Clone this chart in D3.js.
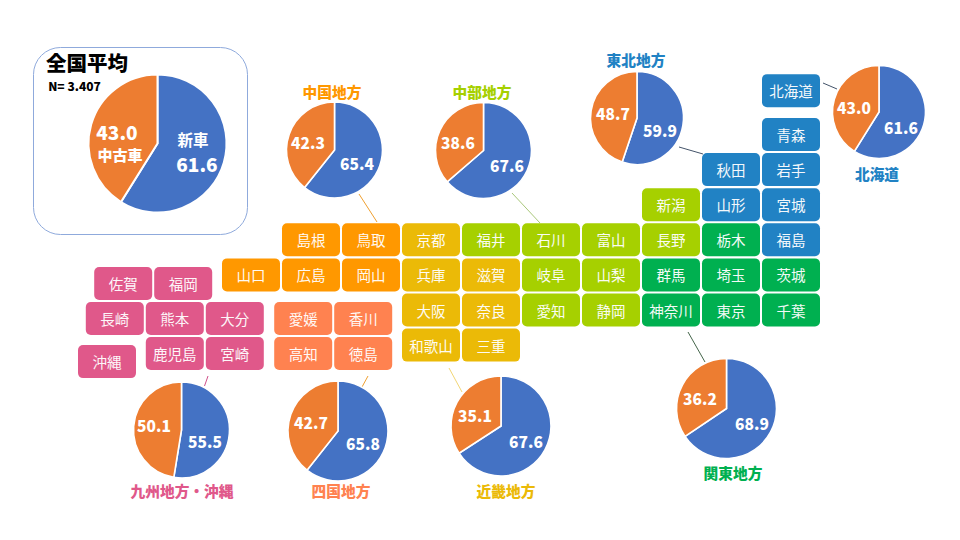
<!DOCTYPE html>
<html>
<head>
<meta charset="utf-8">
<script src="https://cdn.jsdelivr.net/npm/d3@7"></script>
<style>
  html, body { margin: 0; padding: 0; background: #fff; }
  svg { display: block; }
  text { font-family: "Noto Sans CJK JP", sans-serif; text-anchor: middle; dominant-baseline: central; }
</style>
</head>
<body>
<svg id="chart" width="960" height="540"></svg>
<script>
// values
var regionNames = ["全国平均", "北海道", "東北地方", "関東地方", "中部地方", "近畿地方", "中国地方", "四国地方", "九州地方・沖縄"];
var newCar = [61.6, 61.6, 59.9, 68.9, 67.6, 67.6, 65.4, 65.8, 55.5];
var usedCar = [43.0, 43.0, 48.7, 36.2, 38.6, 35.1, 42.3, 42.7, 50.1];

var hokkaidoTiles = ["北海道"];
var tohokuTiles = ["青森", "秋田", "岩手", "山形", "宮城", "福島"];
var kantoTiles = ["栃木", "群馬", "埼玉", "茨城", "神奈川", "東京", "千葉"];
var chubuTiles = ["新潟", "福井", "石川", "富山", "長野", "岐阜", "山梨", "愛知", "静岡"];
var kinkiTiles = ["京都", "兵庫", "滋賀", "大阪", "奈良", "和歌山", "三重"];
var chugokuTiles = ["島根", "鳥取", "山口", "広島", "岡山"];
var shikokuTiles = ["愛媛", "香川", "高知", "徳島"];
var kyushuTiles = ["佐賀", "福岡", "長崎", "熊本", "大分", "鹿児島", "宮崎", "沖縄"];

// page layout, same order as regionNames
var pieSpots = [
  { x: 157.5, y: 143.5, r: 69, newAt: [197, 163], usedAt: [117, 131], titleAt: [87, 62] },
  { x: 879, y: 112, r: 46.5, newAt: [901, 127], usedAt: [854, 107], titleAt: [877, 173], line: [823, 83, 837, 89] },
  { x: 637, y: 118, r: 46.5, newAt: [660, 130], usedAt: [613, 113], titleAt: [636, 59], line: [679, 147, 703, 154] },
  { x: 726.5, y: 408.5, r: 50, newAt: [752, 423], usedAt: [700, 398], titleAt: [733, 472], line: [688, 332, 705, 362] },
  { x: 483.5, y: 150.5, r: 48, newAt: [507, 165], usedAt: [458, 142], titleAt: [482, 91], line: [512, 193, 540, 223] },
  { x: 501, y: 426, r: 50, newAt: [526, 441], usedAt: [475, 415], titleAt: [506, 490], line: [449, 368, 462, 392] },
  { x: 334.5, y: 150, r: 48, newAt: [357, 163], usedAt: [308, 142], titleAt: [332, 91], line: [359, 194, 377, 222] },
  { x: 338, y: 431, r: 50, newAt: [363, 443], usedAt: [311, 422], titleAt: [341, 490], line: [368, 376, 362, 387] },
  { x: 181.5, y: 430, r: 48, newAt: [205, 441], usedAt: [154, 425], titleAt: [182, 490], line: [208, 376, 204.5, 386] }
];

// tile positions on the map grid, [column, row]
var tileGroups = [
  { names: hokkaidoTiles, color: "#2182C4", cells: [[9, -1.25]] },
  { names: tohokuTiles, color: "#2182C4", cells: [[9, 0], [8, 1], [9, 1], [8, 2], [9, 2], [9, 3]] },
  { names: kantoTiles, color: "#00B050", cells: [[8, 3], [7, 4], [8, 4], [9, 4], [7, 5], [8, 5], [9, 5]] },
  { names: chubuTiles, color: "#A6D000", cells: [[7, 2], [4, 3], [5, 3], [6, 3], [7, 3], [5, 4], [6, 4], [5, 5], [6, 5]] },
  { names: kinkiTiles, color: "#EBBA07", cells: [[3, 3], [3, 4], [4, 4], [3, 5], [4, 5], [3, 6], [4, 6]] },
  { names: chugokuTiles, color: "#FF9800", cells: [[1, 3], [2, 3], [0, 4], [1, 4], [2, 4]] },
  { names: shikokuTiles, color: "#FF8250", cells: [[0.87, 5.24], [1.87, 5.24], [0.87, 6.24], [1.87, 6.24]] },
  { names: kyushuTiles, color: "#E0588A", cells: [[-2.13, 4.245], [-1.13, 4.245], [-2.27, 5.24], [-1.27, 5.24], [-0.27, 5.24], [-1.27, 6.24], [-0.27, 6.24], [-2.4, 6.47]] }
];
var titleColors = ["#000", "#2182C4", "#2182C4", "#00B050", "#A6D000", "#EBBA07", "#FF9800", "#FF8250", "#E0588A"];
var lineColors = [null, "#44546A", "#44546A", "#44654A", "#A9C77A", "#F2D675", "#F0A030", "#F0A030", "#D0508A"];

var svg = d3.select("#chart");
var tileW = 58, tileH = 33;

var xGrid = d3.scaleLinear().domain([0, 1]).range([222, 282]);
var yGrid = d3.scaleLinear().domain([0, 1]).range([118, 153.1]);

// the box around the national pie
svg.append("rect")
  .attr("x", 33.5).attr("y", 47.5)
  .attr("width", 214).attr("height", 187)
  .attr("rx", 27)
  .attr("fill", "#fff")
  .attr("stroke", "#8FAADC")
  .attr("stroke-width", 1);

tileGroups.forEach((group) => {
  var tile = svg.append("g").selectAll("g")
    .data(group.names)
    .enter().append("g")
    .attr("transform", (d, i) => "translate(" + xGrid(group.cells[i][0]) + "," + yGrid(group.cells[i][1]) + ")");

  tile.append("rect")
    .attr("width", tileW).attr("height", tileH)
    .attr("rx", 5)
    .attr("fill", group.color);

  tile.append("text")
    .attr("x", tileW / 2).attr("y", tileH / 2)
    .attr("fill", "#fff")
    .attr("font-size", 14.5)
    .attr("font-weight", 400)
    .attr("opacity", 0.95)
    .text(d => d);
});

var pie = d3.pie().sort(null).value(d => d);

regionNames.forEach((name, i) => {
  var spot = pieSpots[i];
  var isTotal = i === 0;
  var arc = d3.arc().innerRadius(0).outerRadius(spot.r);

  if (spot.line) {
    svg.append("line")
      .attr("x1", spot.line[0]).attr("y1", spot.line[1])
      .attr("x2", spot.line[2]).attr("y2", spot.line[3])
      .attr("stroke", lineColors[i])
      .attr("stroke-width", 1);
  }

  svg.append("g")
    .attr("transform", "translate(" + spot.x + "," + spot.y + ")")
    .selectAll("path")
    .data(pie([newCar[i], usedCar[i]]))
    .enter().append("path")
    .attr("d", arc)
    .attr("fill", (d, j) => j === 0 ? "#4472C4" : "#ED7D31")
    .attr("stroke", "#fff")
    .attr("stroke-width", isTotal ? 2 : 1.6);

  var numberSize = isTotal ? 19 : 15.5;
  svg.append("text")
    .attr("x", spot.newAt[0]).attr("y", spot.newAt[1])
    .attr("fill", "#fff").attr("font-size", numberSize).attr("font-weight", 900)
    .text(newCar[i].toFixed(1));
  svg.append("text")
    .attr("x", spot.usedAt[0]).attr("y", spot.usedAt[1])
    .attr("fill", "#fff").attr("font-size", numberSize).attr("font-weight", 900)
    .text(usedCar[i].toFixed(1));

  svg.append("text")
    .attr("x", spot.titleAt[0]).attr("y", spot.titleAt[1])
    .attr("fill", titleColors[i])
    .attr("font-size", isTotal ? 20.5 : 14.7)
    .attr("font-weight", 900)
    .text(name);
});

// national pie extras
svg.append("text")
  .attr("x", 193).attr("y", 139)
  .attr("fill", "#fff").attr("font-size", 15.5).attr("font-weight", 700)
  .text("新車");
svg.append("text")
  .attr("x", 120).attr("y", 154)
  .attr("fill", "#fff").attr("font-size", 15).attr("font-weight", 900)
  .text("中古車");
svg.append("text")
  .attr("x", 74.5).attr("y", 85)
  .attr("fill", "#000").attr("font-size", 12).attr("font-weight", 900)
  .text("N= 3.407");
</script>
</body>
</html>
